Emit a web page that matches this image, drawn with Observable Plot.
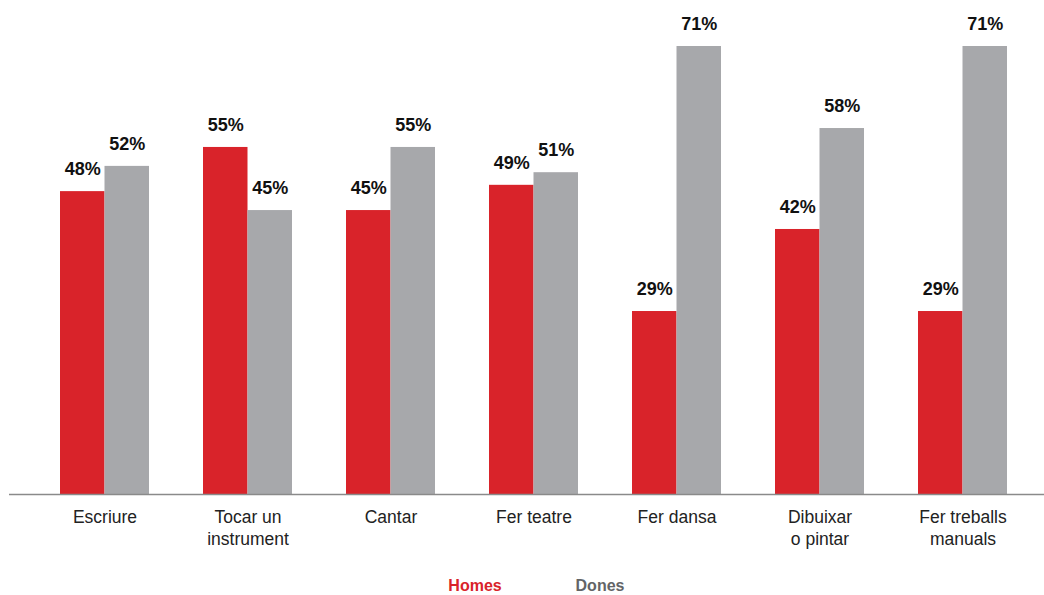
<!DOCTYPE html>
<html><head><meta charset="utf-8">
<script src="https://cdn.jsdelivr.net/npm/d3@7"></script>
<script src="https://cdn.jsdelivr.net/npm/@observablehq/plot@0.6"></script>
<style>
body{margin:0;background:#fff;font-family:"Liberation Sans",Arial,sans-serif;}
#wrap{position:relative;width:1044px;height:595px;}
#legend span{position:absolute;top:577px;font-weight:bold;font-size:16px;transform:translateX(-50%);}
</style></head>
<body><div id="wrap"></div>
<script>
const categories = ["Escriure", "Tocar un\ninstrument", "Cantar", "Fer teatre", "Fer dansa", "Dibuixar\no pintar", "Fer treballs\nmanuals"];
const homes = [48, 55, 45, 49, 29, 42, 29];
const dones = [52, 45, 55, 51, 71, 58, 71];
const seriesNames = ["Homes", "Dones"];
const colors = ["#d9232a", "#a7a8ab"];
const legendColors = ["#d9232a", "#636466"];

const rowsH = categories.map((c, i) => ({cat: c, v: homes[i]}));
const rowsD = categories.map((c, i) => ({cat: c, v: dones[i]}));
const half = 44.5;

const chart = Plot.plot({
  width: 1044,
  height: 570,
  marginLeft: 9,
  marginRight: 0,
  marginTop: 0,
  marginBottom: 76,
  x: {domain: categories, range: [59, 1008], paddingInner: 0.379, paddingOuter: 0, axis: null},
  y: {domain: [0, 71], range: [494, 46], axis: null},
  marks: [
    Plot.barY(rowsH, {x: "cat", y: "v", fill: colors[0], insetRight: half}),
    Plot.barY(rowsD, {x: "cat", y: "v", fill: colors[1], insetLeft: half}),
    Plot.text(rowsH, {x: "cat", y: "v", text: d => d.v + "%", dx: -half / 2, dy: -22, fontSize: 18, fontWeight: "bold", fill: "#111"}),
    Plot.text(rowsD, {x: "cat", y: "v", text: d => d.v + "%", dx: half / 2, dy: -22, fontSize: 18, fontWeight: "bold", fill: "#111"}),
    Plot.ruleY([0], {stroke: "#8a8a8a", strokeWidth: 1.5}),
    Plot.text(categories, {x: d => d, y: () => 0, text: d => d, lineAnchor: "top", dy: 13, fontSize: 17.5, lineHeight: 1.25, fill: "#222"})
  ]
});
chart.style.fontFamily = '"Liberation Sans", Arial, sans-serif';
const wrap = document.getElementById("wrap");
wrap.appendChild(chart);
const legend = document.createElement("div");
legend.id = "legend";
const legendX = [475, 600];
seriesNames.forEach((n, i) => {
  const s = document.createElement("span");
  s.textContent = n;
  s.style.color = legendColors[i];
  s.style.left = legendX[i] + "px";
  legend.appendChild(s);
});
wrap.appendChild(legend);
</script>
</body></html>
